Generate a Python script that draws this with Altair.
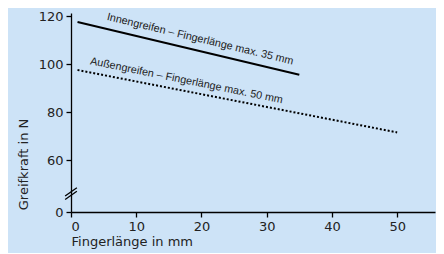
import altair as alt
import pandas as pd

# data
series_names = ["Innengreifen", "Außengreifen"]
inner_x = [1, 35]
inner_y = [117.5, 95.5]
outer_x = [1, 50]
outer_y = [97.5, 71.5]

label_texts = ["Innengreifen – Fingerlänge max. 35 mm", "Außengreifen – Fingerlänge max. 50 mm"]
label_x = [19.8, 17.7]
label_y = [110.3, 93.0]
label_angle = [13.5, 11.5]

y_ticks = [0, 60, 80, 100, 120]
x_ticks = [0, 10, 20, 30, 40, 50]

# axis break slashes (in data units)
brk_x1 = [-0.9, -0.9]
brk_x2 = [0.9, 0.9]
brk_y1 = [18.5, 14.5]
brk_y2 = [28.0, 24.0]

W, H = 364, 199
BG = "#cde3f7"
FONT = "DejaVu Sans"
NARROW = "Liberation Sans"

xscale = alt.Scale(domain=[0, 55.8], nice=False, zero=False)
yscale = alt.Scale(domain=[0, 60, 121.25], range=[H, 147, 0], nice=False, zero=False)

lines = pd.DataFrame({
    "x": inner_x + outer_x,
    "y": inner_y + outer_y,
    "s": [series_names[0]] * 2 + [series_names[1]] * 2,
})
inner_df = lines[lines.s == series_names[0]]
outer_df = lines[lines.s == series_names[1]]

xaxis = alt.Axis(values=x_ticks, title="Fingerlänge in mm", grid=False,
                 domainColor="black", domainWidth=1.3, tickColor="black", tickWidth=1.3,
                 tickSize=5, labelPadding=3, labelFont=FONT, labelFontSize=13, labelColor="#222",
                 titleFont=FONT, titleFontSize=13, titleFontWeight="normal", titleColor="#222",
                 titleAnchor="start", titleAlign="left", titleX=0, titleY=36, titleBaseline="bottom")
yaxis = alt.Axis(values=y_ticks, title="Greifkraft in N", grid=False,
                 domainColor="black", domainWidth=1.3, tickColor="black", tickWidth=1.3,
                 tickSize=5, labelPadding=3, labelFont=FONT, labelFontSize=13, labelColor="#222",
                 titleFont=FONT, titleFontSize=13, titleFontWeight="normal", titleColor="#222",
                 titleAngle=270, titleAlign="center", titleBaseline="middle", titleX=-48, titleY=151)

inner = alt.Chart(inner_df).mark_line(color="black", strokeWidth=2).encode(
    x=alt.X("x:Q", scale=xscale, axis=xaxis),
    y=alt.Y("y:Q", scale=yscale, axis=yaxis),
)
outer = alt.Chart(outer_df).mark_line(color="black", strokeWidth=2, strokeDash=[2, 2]).encode(
    x=alt.X("x:Q", scale=xscale),
    y=alt.Y("y:Q", scale=yscale),
)

lab_df = pd.DataFrame({"t": label_texts, "x": label_x, "y": label_y, "a": label_angle})
labels = alt.layer(*[
    alt.Chart(lab_df.iloc[[i]]).mark_text(font=NARROW, fontSize=10.8, color="#222",
                                         angle=label_angle[i], align="center", baseline="middle").encode(
        x=alt.X("x:Q", scale=xscale), y=alt.Y("y:Q", scale=yscale), text="t:N")
    for i in range(2)
])

brk_df = pd.DataFrame({"x": brk_x1, "x2": brk_x2, "y": brk_y1, "y2": brk_y2})
breaks = alt.Chart(brk_df).mark_rule(color="black", strokeWidth=1.3).encode(
    x=alt.X("x:Q", scale=xscale), x2="x2:Q",
    y=alt.Y("y:Q", scale=yscale), y2="y2:Q",
)

chart = alt.layer(inner, outer, labels, breaks).properties(
    width=W, height=H,
    autosize=alt.AutoSizeParams(type="none"),
    padding={"left": 63, "top": 5, "right": 1, "bottom": 41},
    background=BG,
).configure_view(stroke=None)

chart.save("out.html", embed_options={"renderer": "svg", "actions": False})
